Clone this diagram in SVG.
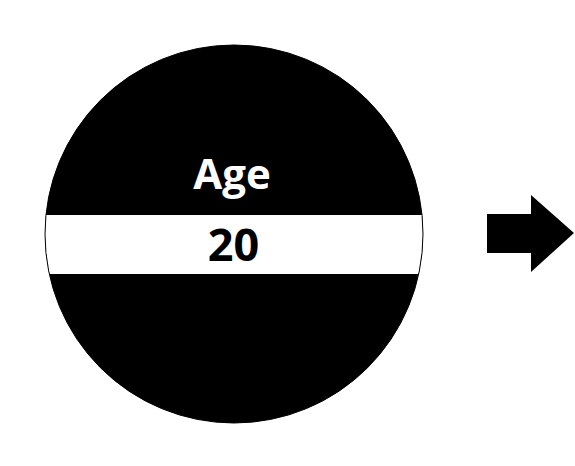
<svg xmlns="http://www.w3.org/2000/svg" width="575" height="466" viewBox="0 0 575 466">
<style>
.lbl{font-family:"Open Sans","Noto Sans","Liberation Sans",sans-serif;font-weight:bold;text-anchor:middle}
</style>
<defs>
<clipPath id="cc"><circle cx="234" cy="234" r="189"/></clipPath>
</defs>
<rect width="575" height="466" fill="#fff"/>
<g id="age-node">
<circle cx="234" cy="234" r="189" fill="#000"/>
<rect x="40" y="215" width="390" height="59" fill="#fff" clip-path="url(#cc)"/>
<circle cx="234" cy="234" r="189" fill="none" stroke="#000" stroke-width="1"/>
<text class="lbl" x="232" y="189" font-size="42" fill="#fff">Age</text>
<text class="lbl" x="233.5" y="261" font-size="45" fill="#000">20</text>
</g>
<g id="connectors">
<polygon points="487,214 531,214 531,195 574,233 531,272 531,253 487,253" fill="#000"/>
</g>
</svg>
